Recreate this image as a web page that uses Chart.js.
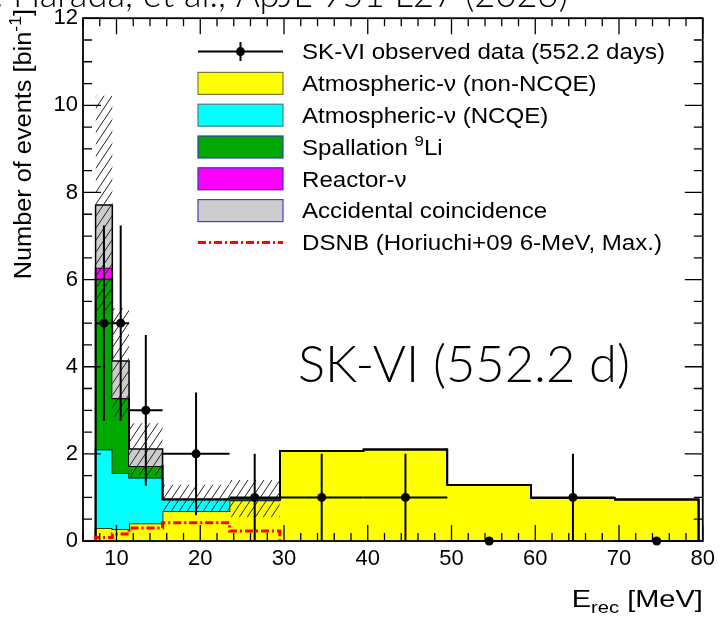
<!DOCTYPE html>
<html lang="en">
<head>
<meta charset="UTF-8" />
<title>SK-VI observed spectrum</title>
<script src="https://cdn.jsdelivr.net/npm/chart.js"></script>
<style>
  html, body { margin: 0; padding: 0; background: #fff; }
  #wrap { width: 720px; height: 617px; }
</style>
</head>
<body>
<div id="wrap"><canvas id="chart" width="720" height="617"></canvas></div>
<script>
  // bin edges in E_rec [MeV]
  const binEdges = [7.5, 9.5, 11.5, 15.5, 23.5, 29.5, 39.5, 49.5, 59.5, 69.5, 79.5];

  // expected backgrounds per bin (stack order, bottom -> top)
  const atmNonNCQE = [0.30, 0.27, 0.40, 0.68, 0.93, 2.07, 2.10, 1.29, 0.99, 0.95];
  const atmNCQE    = [1.80, 1.29, 1.05, 0.27, 0.02, 0, 0, 0, 0, 0];
  const spallLi9   = [3.92, 1.71, 0.27, 0.00, 0.00, 0, 0, 0, 0, 0];
  const reactorNu  = [0.25, 0.01, 0.00, 0.00, 0.00, 0, 0, 0, 0, 0];
  const accidental = [1.44, 0.85, 0.39, 0.01, 0.02, 0, 0, 0, 0, 0];

  // systematic band (hatched), first five bins
  const sysLow  = [5.25, 2.85, 1.50, 0.66, 0.55];
  const sysHigh = [10.22, 5.34, 2.70, 1.29, 1.40];

  // DSNB expectation, first five bins
  const dsnb = [0.08, 0.16, 0.30, 0.42, 0.23];

  // observed data
  const dataCenters = [8.5, 10.5, 13.5, 19.5, 26.5, 34.5, 44.5, 54.5, 64.5, 74.5];
  const observed    = [5, 5, 3, 2, 1, 1, 1, 0, 1, 0];
  const observedErr = [2.24, 2.24, 1.73, 1.41, 1.00, 1.00, 1.00, 0, 1.00, 0];

  const xTickLabels = [10, 20, 30, 40, 50, 60, 70, 80];

  const HELV = '"Liberation Sans", Arial, Helvetica, sans-serif';
  const THIN = '300 {s}px Lato, "Noto Sans", sans-serif';

  // histogram outline as stepped points
  function stepPoints(edges, values, closed) {
    const pts = [];
    if (closed) pts.push({ x: edges[0], y: 0 });
    values.forEach((v, i) => pts.push({ x: edges[i], y: v }));
    pts.push({ x: edges[values.length], y: values[values.length - 1] });
    if (closed) pts.push({ x: edges[values.length], y: 0 });
    return pts;
  }

  const components = [atmNonNCQE, atmNCQE, spallLi9, reactorNu, accidental];
  const fills = ['#ffff00', '#00ffff', '#00a800', '#ff00ff', '#cccccc'];
  let running = atmNonNCQE.map(() => 0);
  const stacked = components.map(c => {
    running = running.map((r, i) => r + c[i]);
    return running;
  });

  // hatch pattern
  function makeHatch() {
    const c = document.createElement('canvas');
    c.width = 8; c.height = 12;
    const g = c.getContext('2d');
    g.strokeStyle = '#222';
    g.lineWidth = 1;
    [-8, 0, 8].forEach(o => {
      g.beginPath();
      g.moveTo(o, 12);
      g.lineTo(o + 8, 0);
      g.stroke();
    });
    return g.createPattern(c, 'repeat');
  }

  // rich text: parts like {t, sup} / {t, sub}
  function fontOf(p, size, family) {
    const fs = (p.sup || p.sub) ? size * 0.7 : size;
    return family.indexOf('{s}') >= 0 ? family.replace('{s}', fs) : fs + 'px ' + family;
  }
  function richWidth(ctx, parts, size, family) {
    let w = 0;
    parts.forEach(p => {
      ctx.font = fontOf(p, size, family);
      w += ctx.measureText(p.t).width;
    });
    return w;
  }
  function drawRich(ctx, parts, x, y, size, family, align, sx, rot) {
    ctx.save();
    ctx.translate(x, y);
    if (rot) ctx.rotate(rot);
    ctx.scale(sx, 1);
    ctx.textAlign = 'left';
    ctx.textBaseline = 'alphabetic';
    ctx.fillStyle = '#000';
    let cx = align === 'right' ? -richWidth(ctx, parts, size, family) : 0;
    parts.forEach(p => {
      ctx.font = fontOf(p, size, family);
      const dy = p.sup ? -size * 0.42 : (p.sub ? size * 0.25 : 0);
      ctx.fillText(p.t, cx, dy);
      cx += ctx.measureText(p.t).width;
    });
    ctx.restore();
  }

  const legendItems = [
    { type: 'data', parts: [{ t: 'SK-VI observed data (552.2 days)' }] },
    { type: 'box', fill: '#ffff00', edge: '#7a7a40', parts: [{ t: 'Atmospheric-\u03bd (non-NCQE)' }] },
    { type: 'box', fill: '#00ffff', edge: '#4a8080', parts: [{ t: 'Atmospheric-\u03bd (NCQE)' }] },
    { type: 'box', fill: '#00a800', edge: '#3040b0', parts: [{ t: 'Spallation ' }, { t: '9', sup: true }, { t: 'Li' }] },
    { type: 'box', fill: '#ff00ff', edge: '#3a30c8', parts: [{ t: 'Reactor-\u03bd' }] },
    { type: 'box', fill: '#cccccc', edge: '#4040c8', parts: [{ t: 'Accidental coincidence' }] },
    { type: 'dash', parts: [{ t: 'DSNB (Horiuchi+09 6-MeV, Max.)' }] }
  ];

  const decorPlugin = {
    id: 'decor',
    afterDatasetsDraw(chart) {
      const { ctx, scales: { x, y } } = chart;
      // error bars
      ctx.save();
      ctx.strokeStyle = '#000';
      ctx.lineWidth = 2;
      dataCenters.forEach((c, i) => {
        const py = y.getPixelForValue(observed[i]);
        ctx.beginPath();
        ctx.moveTo(x.getPixelForValue(binEdges[i]), py);
        ctx.lineTo(x.getPixelForValue(binEdges[i + 1]), py);
        if (observedErr[i] > 0) {
          const px = x.getPixelForValue(c);
          ctx.moveTo(px, y.getPixelForValue(observed[i] - observedErr[i]));
          ctx.lineTo(px, y.getPixelForValue(observed[i] + observedErr[i]));
        }
        ctx.stroke();
      });
      ctx.restore();
    },
    afterDraw(chart) {
      const { ctx, chartArea: a, scales: { x, y } } = chart;
      ctx.save();
      // ticks on all four sides
      ctx.strokeStyle = '#000';
      ctx.lineWidth = 1.3;
      ctx.beginPath();
      for (let v = 6; v <= 80; v += 2) {
        const px = x.getPixelForValue(v);
        const len = v % 10 === 0 ? 16 : 8;
        ctx.moveTo(px, a.bottom); ctx.lineTo(px, a.bottom - len);
        ctx.moveTo(px, a.top); ctx.lineTo(px, a.top + len);
      }
      for (let v = 0; v <= 12; v += 0.5) {
        const py = y.getPixelForValue(v);
        const len = v % 2 === 0 ? 18 : 9;
        ctx.moveTo(a.left, py); ctx.lineTo(a.left + len, py);
        ctx.moveTo(a.right, py); ctx.lineTo(a.right - len, py);
      }
      ctx.stroke();
      // frame
      ctx.lineWidth = 1.8;
      ctx.strokeRect(a.left, a.top, a.right - a.left, a.bottom - a.top);

      // legend
      const rowY0 = 51.6, rowDy = 31.8, bx0 = 198, bx1 = 283, tx = 302;
      const legSx = 363 / richWidth(ctx, legendItems[0].parts, 22, HELV);
      legendItems.forEach((it, i) => {
        const cy = rowY0 + i * rowDy;
        if (it.type === 'data') {
          ctx.strokeStyle = '#000';
          ctx.lineWidth = 2;
          ctx.beginPath();
          ctx.moveTo(bx0, cy); ctx.lineTo(bx1, cy);
          ctx.moveTo((bx0 + bx1) / 2, cy - 9.5); ctx.lineTo((bx0 + bx1) / 2, cy + 9.5);
          ctx.stroke();
          ctx.fillStyle = '#000';
          ctx.beginPath();
          ctx.arc((bx0 + bx1) / 2, cy, 4.5, 0, Math.PI * 2);
          ctx.fill();
        } else if (it.type === 'box') {
          ctx.fillStyle = it.fill;
          ctx.fillRect(bx0, cy - 11, bx1 - bx0, 22);
          ctx.strokeStyle = it.edge;
          ctx.lineWidth = 1.2;
          ctx.strokeRect(bx0, cy - 11, bx1 - bx0, 22);
        } else {
          ctx.strokeStyle = '#ff0000';
          ctx.lineWidth = 3;
          ctx.setLineDash([8, 3, 2, 3]);
          ctx.beginPath();
          ctx.moveTo(bx0, cy); ctx.lineTo(bx1, cy);
          ctx.stroke();
          ctx.setLineDash([]);
        }
        drawRich(ctx, it.parts, tx, cy + 7.8, 22, HELV, 'left', legSx);
      });

      // axis titles
      const xTitle = [{ t: 'E' }, { t: 'rec', sub: true }, { t: ' [MeV]' }];
      drawRich(ctx, xTitle, a.right, 606.5, 24, HELV, 'right', 131 / richWidth(ctx, xTitle, 24, HELV));
      drawRich(ctx, [{ t: 'Number of events [bin' }, { t: '-1', sup: true }, { t: ']' }], 31, 9, 23, HELV, 'right', 1.1, -Math.PI / 2);

      // big label and the cut-off citation at the top
      const big = [{ t: 'SK-VI (552.2 d)' }];
      drawRich(ctx, big, 298, 381.5, 51, THIN, 'left', 332 / richWidth(ctx, big, 51, THIN));
      ctx.font = THIN.replace('{s}', 38);
      const citeSx = 452 / ctx.measureText('Harada, et al., ApJL 951 L27 ').width;
      const lead = ctx.measureText('M. ').width * citeSx;
      drawRich(ctx, [{ t: 'M. Harada, et al., ApJL 951 L27 (2023)' }], 13 - lead, 6.5, 38, THIN, 'left', citeSx);
      ctx.restore();
    }
  };

  const datasets = [];
  stacked.forEach((vals, k) => {
    datasets.push({
      type: 'line',
      data: stepPoints(binEdges, vals, true),
      stepped: 'before',
      borderColor: '#000',
      borderWidth: 1.5,
      backgroundColor: fills[k],
      fill: k === 0 ? 'origin' : '-1',
      pointRadius: 0,
      order: 20 - k
    });
  });
  const bandEdges = binEdges.slice(0, sysLow.length + 1);
  datasets.push({
    type: 'line',
    data: stepPoints(bandEdges, sysLow, false),
    stepped: 'before',
    borderWidth: 0,
    borderColor: 'rgba(0,0,0,0)',
    fill: false,
    pointRadius: 0,
    order: 14
  });
  datasets.push({
    type: 'line',
    data: stepPoints(bandEdges, sysHigh, false),
    stepped: 'before',
    borderWidth: 0,
    borderColor: 'rgba(0,0,0,0)',
    backgroundColor: makeHatch(),
    fill: '-1',
    pointRadius: 0,
    order: 13
  });
  datasets.push({
    type: 'line',
    data: stepPoints(binEdges.slice(0, dsnb.length + 1), dsnb, true),
    stepped: 'before',
    borderColor: '#ff0000',
    borderWidth: 3,
    borderDash: [8, 3, 2, 3],
    fill: false,
    pointRadius: 0,
    order: 12
  });
  datasets.push({
    type: 'scatter',
    data: dataCenters.map((c, i) => ({ x: c, y: observed[i] })),
    pointRadius: 4.5,
    pointBackgroundColor: '#000',
    pointBorderWidth: 0,
    showLine: false,
    clip: false,
    order: 1
  });

  new Chart(document.getElementById('chart').getContext('2d'), {
    type: 'line',
    data: { datasets },
    options: {
      responsive: false,
      animation: false,
      devicePixelRatio: 1,
      layout: { padding: { top: 15, right: 17, left: 0, bottom: 0 } },
      plugins: { legend: { display: false }, tooltip: { enabled: false } },
      scales: {
        x: {
          type: 'linear',
          min: 6,
          max: 80,
          grid: { display: false, drawTicks: false },
          border: { display: false },
          ticks: { font: { size: 22, family: HELV }, color: '#000', padding: 5, maxRotation: 0 },
          afterBuildTicks: s => { s.ticks = xTickLabels.map(v => ({ value: v })); },
          afterFit: s => { s.height = 76; }
        },
        y: {
          min: 0,
          max: 12,
          grid: { display: false, drawTicks: false },
          border: { display: false },
          ticks: { stepSize: 2, font: { size: 22, family: HELV }, color: '#000', padding: 5 },
          afterFit: s => { s.width = 83; }
        }
      }
    },
    plugins: [decorPlugin]
  });
</script>
</body>
</html>
